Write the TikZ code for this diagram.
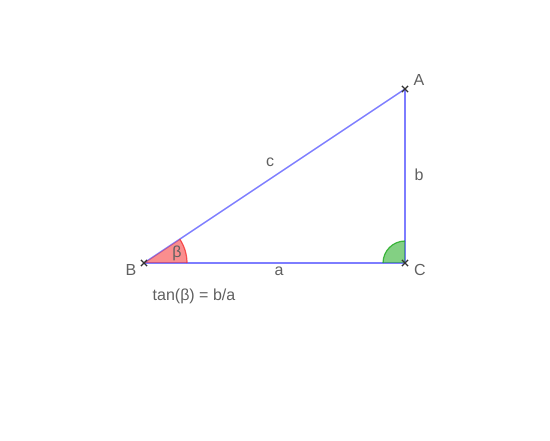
\documentclass[tikz,border=0pt]{standalone}
\usepackage{fontspec}
\setmainfont{Liberation Sans}
\usetikzlibrary{shapes.misc,angles,quotes}
\definecolor{lineblue}{RGB}{125,125,255}
\definecolor{labelgray}{RGB}{96,96,96}
\definecolor{pointgray}{RGB}{50,50,50}
\definecolor{angred}{RGB}{245,50,50}
\definecolor{anggreen}{RGB}{30,170,30}
\begin{document}
\begin{tikzpicture}[x=1pt,y=1pt,
  pointmark/.style={cross out, draw=pointgray, line width=1.2pt, minimum size=5pt, inner sep=0pt},
  sidelabel/.style={text=labelgray, font=\fontsize{16}{19}\selectfont, inner sep=0pt},
  side/.style={lineblue, line width=1.5pt}]
\useasboundingbox (0,0) rectangle (550,440);
% Define the nodes
\coordinate (B) at (144,177);
\coordinate (C) at (405,177);
\coordinate (A) at (405,351);
\node[sidelabel] at (419,360) (Alabel) {A};
\node[sidelabel] at (131,170) (Blabel) {B};
\node[sidelabel] at (420,170) (Clabel) {C};
\node[sidelabel] at (270,278) (clabel) {c};
\node[sidelabel] at (419,265) (blabel) {b};
\node[sidelabel] at (279,169) (alabel) {a};
\node[sidelabel] at (194,144) (tanlabel) {tan(β) = b/a};
% Draw the paths
\draw[side] (B) -- (C);
\draw[side] (C) -- (A);
\draw[side] (A) -- (B);
% Draw the angles
\pic[draw=angred, draw opacity=0.8, fill=angred, fill opacity=0.55, line width=1.2pt, angle radius=43pt,
  "β", angle eccentricity=0.8, text=labelgray, text opacity=1, font=\fontsize{16}{19}\selectfont]
  {angle=C--B--A};
\pic[draw=anggreen, draw opacity=0.8, fill=anggreen, fill opacity=0.55, line width=1.2pt, angle radius=22pt]
  {angle=A--C--B};
% Mark the points
\node[pointmark] at (B) (Bmark) {};
\node[pointmark] at (C) (Cmark) {};
\node[pointmark] at (A) (Amark) {};
\end{tikzpicture}
\end{document}
